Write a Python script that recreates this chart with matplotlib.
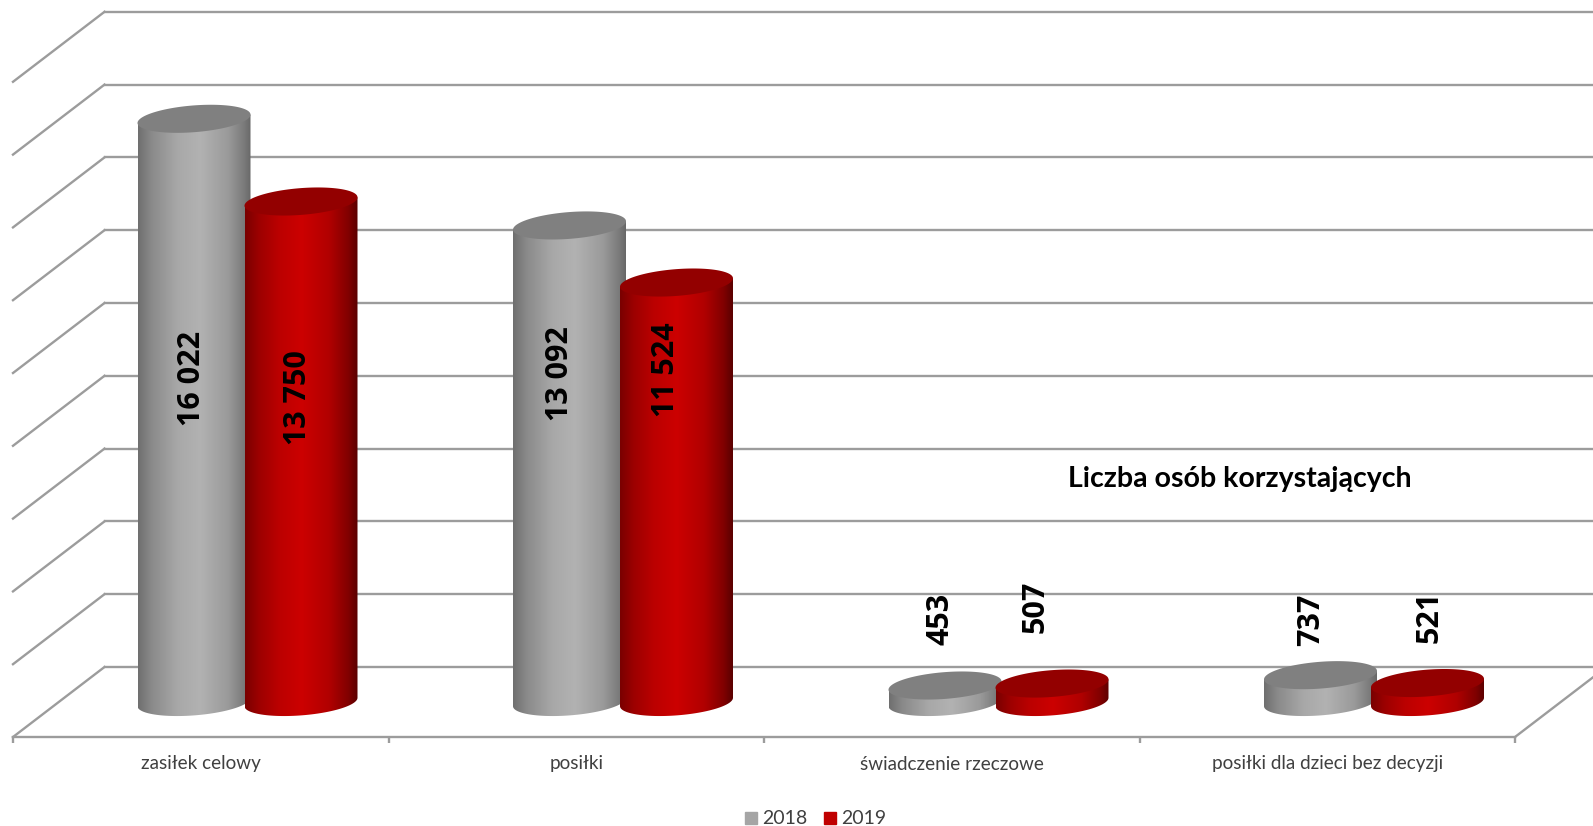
import numpy as np
import matplotlib
matplotlib.use('Agg')
import matplotlib.pyplot as plt
from matplotlib.patches import Patch, Polygon

categories = ['zasiłek celowy', 'posiłki', 'świadczenie rzeczowe',
              'posiłki dla dzieci bez decyzji']
values_2018 = [16022, 13092, 453, 737]
values_2019 = [13750, 11524, 507, 521]
years = ['2018', '2019']
y_ticks = list(range(0, 18001, 2000))

W, H = 1593, 826
PX_X = 375.5            # pixels per category
PX_Y = 72.8 / 2000      # pixels per unit of value
X0, Y0 = 13, 737        # front corner of the floor, in pixels
DEPTH_X = 91.5 / PX_X
DEPTH_Y = 70 / PX_Y
HALF_W = 56.5 / PX_X
BAR_SHIFT = 53.5 / PX_X
BAR_NUDGE = 1.0 / PX_X
ELL_B = 13.4 / PX_Y
ELL_S = 4.2 / PX_Y

GRID = '#9c9c9c'
GRID_LW = 1.7
GRAY_STOPS = ([0, .12, .35, .55, .8, .95, 1],
              [0x6f, 0x8a, 0xa8, 0xb2, 0x9a, 0x78, 0x68])
RED_STOPS = ([0, .12, .3, .5, .75, .92, 1],
             [0x7a, 0x9c, 0xbb, 0xcc, 0xb0, 0x80, 0x5a])


def fig_xy(px, py):
    return px / W, 1 - py / H


def make_gradient(stops, red_only):
    s = np.linspace(0, 1, 200)
    c = np.interp(s, stops[0], stops[1]) / 255
    if red_only:
        return np.dstack([c, 0 * c, 0 * c]).reshape(1, 200, 3)
    return np.dstack([c, c, c]).reshape(1, 200, 3)


def cylinder(ax, xc, base, value, stops, top_color, red_only, z):
    top = base + value
    t = np.linspace(np.pi, 2 * np.pi, 60)
    x_low = xc + HALF_W * np.cos(t)
    y_low = base + ELL_B * np.sin(t) + ELL_S * np.cos(t)
    body = np.column_stack([x_low, y_low])
    body = np.vstack([[xc - HALF_W, top - ELL_S], body, [xc + HALF_W, top + ELL_S]])
    clip = Polygon(body, closed=True, fc='none', ec='none', zorder=z)
    ax.add_patch(clip)
    im = ax.imshow(make_gradient(stops, red_only), aspect='auto', zorder=z,
                   interpolation='bilinear',
                   extent=(xc - HALF_W, xc + HALF_W, base - 2 * ELL_B, top + 2 * ELL_S))
    im.set_clip_path(clip)
    t = np.linspace(0, 2 * np.pi, 120)
    cap = np.column_stack([xc + HALF_W * np.cos(t),
                           top + ELL_B * np.sin(t) + ELL_S * np.cos(t)])
    ax.add_patch(Polygon(cap, closed=True, fc=top_color, ec='none', zorder=z + 0.1))


plt.rcParams['font.family'] = ['Lato', 'DejaVu Sans']
fig = plt.figure(figsize=(W / 100, H / 100), dpi=100)
ax = fig.add_axes([0, 0, 1, 1])

# back wall, left wall and floor
for v in y_ticks:
    ax.plot([DEPTH_X, 4.3], [v + DEPTH_Y, v + DEPTH_Y], color=GRID, lw=GRID_LW, zorder=1)
    ax.plot([0, DEPTH_X], [v, v + DEPTH_Y], color=GRID, lw=GRID_LW, zorder=1)
ax.plot([0, 4], [0, 0], color=GRID, lw=GRID_LW, zorder=1)
ax.plot([4, 4 + DEPTH_X], [0, DEPTH_Y], color=GRID, lw=GRID_LW, zorder=1)
ax.vlines(range(5), -6 / PX_Y, 0, color=GRID, lw=GRID_LW, zorder=1)

z = 2
for i in range(len(categories)):
    xc = i + 0.5 + DEPTH_X / 2 + BAR_NUDGE
    cylinder(ax, xc - BAR_SHIFT, DEPTH_Y / 2, values_2018[i], GRAY_STOPS, '#808080', False, z)
    cylinder(ax, xc + BAR_SHIFT, DEPTH_Y / 2, values_2019[i], RED_STOPS, '#930000', True, z + 1)
    z += 2
    ax.text(i + 0.5, -27 / PX_Y, categories[i], ha='center', va='center',
            fontsize=13.6, color='#404040')

ax.set_xlim(-X0 / PX_X, (W - X0) / PX_X)
ax.set_ylim(-(H - Y0) / PX_Y, Y0 / PX_Y)
ax.axis('off')

# data labels were dragged by hand in the original, so they sit at fixed spots
label_px = [(191.5, 378), (298.5, 398), (559.5, 374), (666.5, 370),
            (940.5, 619), (1035.5, 607), (1311.5, 620), (1429.5, 617)]
label_vals = [values_2018[0], values_2019[0], values_2018[1], values_2019[1],
              values_2018[2], values_2019[2], values_2018[3], values_2019[3]]
for (px, py), v in zip(label_px, label_vals):
    fx, fy = fig_xy(px, py)
    fig.text(fx, fy, f'{v:,}'.replace(',', ' '), rotation=90, ha='center', va='center',
             fontsize=22, fontweight='bold', family='Open Sans', color='black', zorder=20)

fx, fy = fig_xy(1240, 479)
fig.text(fx, fy, 'Liczba osób korzystających', ha='center', va='center',
         fontsize=20.5, fontweight='bold', color='black')

handles = [Patch(color='#a5a5a5'), Patch(color='#c00000')]
fig.legend(handles, years, loc='center', bbox_to_anchor=fig_xy(816, 819), ncol=2,
           frameon=False, fontsize=14, labelcolor='#404040', handlelength=0.58,
           handleheight=0.58, handletextpad=0.3, columnspacing=0.85)

fig.savefig('out.png', dpi=100)
